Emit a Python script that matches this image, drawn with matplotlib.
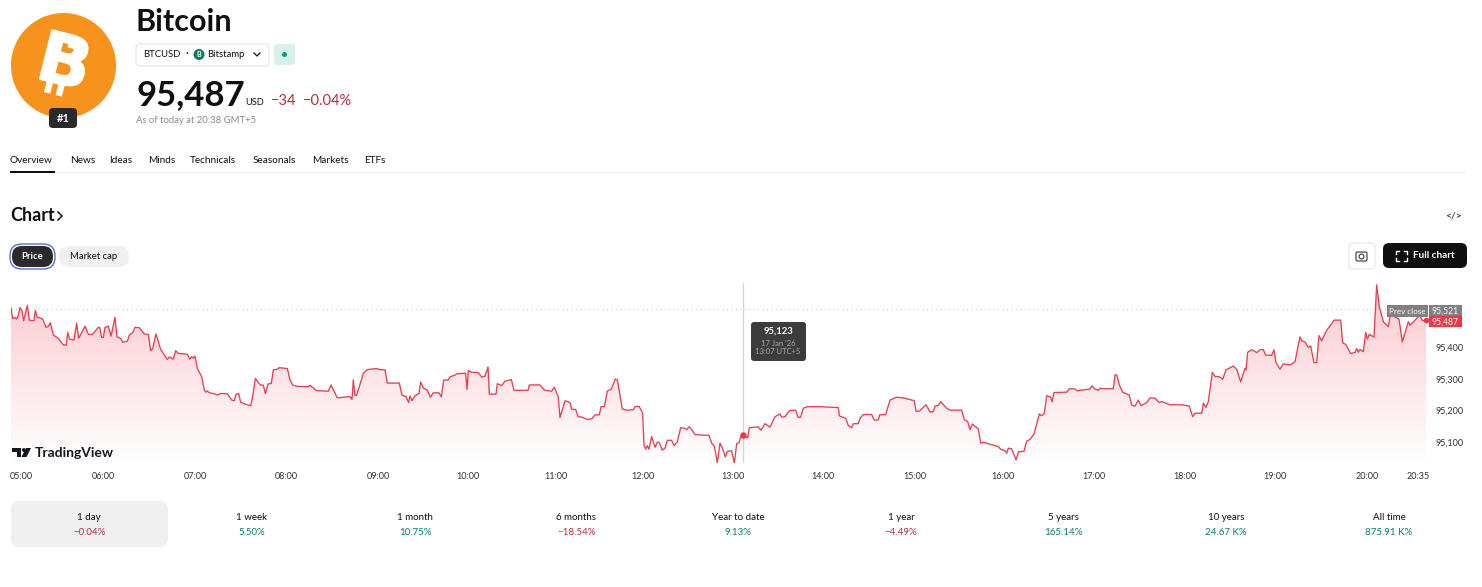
import numpy as np
import matplotlib
matplotlib.use('Agg')
import matplotlib.pyplot as plt
from matplotlib.colors import LinearSegmentedColormap
from matplotlib.patches import Circle, FancyBboxPatch, Polygon, Rectangle
from matplotlib.patheffects import withStroke
from matplotlib.transforms import Affine2D

plt.rcParams['font.family'] = ['Lato', 'DejaVu Sans']

# session bars (one bar is about 13 seconds) and last price in USD
bars_morning = [0, 5, 10, 17, 22, 27, 33, 38, 43, 49, 55, 69, 73, 79, 95, 105, 113, 118, 127, 142, 157, 166, 170, 176, 189, 197, 203, 212, 222, 232, 244, 262, 266, 272, 277, 282, 292, 300, 312, 318, 329, 335, 349, 355, 365, 372, 385, 400, 412, 419, 425, 435, 449, 469, 475, 487, 494, 502, 529, 536, 542, 547, 552, 559, 572, 580, 585, 589, 595, 607, 620, 629, 649, 662, 670, 675, 683, 689, 702, 719, 725, 733, 747, 757, 763, 771, 781, 787, 799, 805, 829, 837, 845, 862, 892, 897, 917, 952, 960, 979, 1017, 1023, 1027, 1032, 1037, 1057, 1067]
price_morning = [95526, 95492, 95496, 95491, 95503, 95527, 95517, 95485, 95508, 95534, 95487, 95485, 95517, 95496, 95491, 95464, 95468, 95479, 95440, 95429, 95408, 95408, 95448, 95426, 95424, 95477, 95430, 95447, 95468, 95442, 95441, 95464, 95464, 95432, 95432, 95464, 95468, 95436, 95496, 95434, 95429, 95417, 95420, 95440, 95447, 95464, 95463, 95443, 95442, 95390, 95397, 95443, 95394, 95362, 95370, 95363, 95390, 95381, 95379, 95363, 95371, 95366, 95373, 95334, 95307, 95265, 95258, 95262, 95256, 95254, 95249, 95254, 95253, 95233, 95231, 95251, 95254, 95226, 95220, 95215, 95244, 95302, 95282, 95280, 95254, 95284, 95286, 95329, 95331, 95336, 95333, 95297, 95281, 95276, 95276, 95280, 95263, 95261, 95281, 95240, 95244, 95235, 95297, 95248, 95248, 95318, 95329]

bars_midday = [1077, 1097, 1105, 1122, 1129, 1165, 1173, 1185, 1193, 1197, 1203, 1212, 1224, 1229, 1237, 1249, 1258, 1267, 1284, 1291, 1298, 1311, 1317, 1329, 1339, 1364, 1368, 1372, 1382, 1402, 1412, 1422, 1431, 1435, 1455, 1459, 1472, 1482, 1501, 1509, 1551, 1555, 1587, 1601, 1622, 1630, 1642, 1647, 1662, 1677, 1682, 1694, 1701, 1715, 1727, 1742, 1752, 1765, 1770, 1780, 1789, 1801, 1813, 1819, 1834, 1847, 1867, 1873, 1885, 1895, 1899, 1904, 1909, 1914, 1922, 1932, 1939, 1944, 1954, 1962, 1969, 1982, 1989, 1999, 2009, 2022, 2027, 2034, 2043, 2052, 2094, 2102, 2110, 2119, 2127, 2135, 2143, 2149, 2162, 2170]
price_midday = [95331, 95333, 95330, 95329, 95287, 95287, 95249, 95244, 95225, 95246, 95231, 95247, 95254, 95291, 95271, 95265, 95242, 95256, 95256, 95243, 95297, 95296, 95307, 95311, 95317, 95318, 95267, 95327, 95321, 95320, 95306, 95309, 95338, 95252, 95252, 95285, 95279, 95293, 95298, 95264, 95264, 95281, 95281, 95264, 95261, 95274, 95242, 95177, 95231, 95225, 95204, 95203, 95181, 95178, 95172, 95173, 95186, 95186, 95212, 95212, 95262, 95268, 95300, 95297, 95205, 95201, 95202, 95213, 95212, 95191, 95090, 95077, 95088, 95077, 95117, 95083, 95099, 95099, 95074, 95080, 95105, 95105, 95088, 95100, 95145, 95143, 95139, 95148, 95138, 95123, 95121, 95096, 95087, 95034, 95096, 95078, 95052, 95070, 95072, 95032]

bars_afternoon = [2177, 2184, 2190, 2197, 2205, 2210, 2215, 2242, 2250, 2262, 2277, 2292, 2307, 2312, 2322, 2335, 2354, 2361, 2369, 2377, 2389, 2427, 2482, 2485, 2504, 2512, 2522, 2527, 2542, 2547, 2557, 2582, 2590, 2602, 2606, 2624, 2637, 2657, 2677, 2710, 2715, 2725, 2735, 2745, 2757, 2767, 2772, 2782, 2789, 2807, 2817, 2852, 2860, 2870, 2877, 2884, 2902, 2909, 2917, 2962, 2969, 2982, 2987, 2992, 3002, 3015, 3023, 3039, 3047, 3057, 3069, 3085, 3092, 3100, 3107, 3119, 3123, 3129, 3167, 3175, 3192, 3199, 3207, 3237, 3243, 3252, 3262]
price_afternoon = [95094, 95098, 95117, 95123, 95117, 95113, 95145, 95148, 95137, 95158, 95147, 95180, 95189, 95179, 95180, 95199, 95201, 95178, 95179, 95207, 95212, 95212, 95209, 95183, 95175, 95152, 95145, 95158, 95158, 95175, 95187, 95187, 95169, 95170, 95186, 95187, 95233, 95242, 95240, 95231, 95197, 95198, 95208, 95218, 95195, 95196, 95214, 95216, 95228, 95207, 95201, 95201, 95170, 95165, 95139, 95157, 95141, 95096, 95099, 95085, 95077, 95072, 95064, 95080, 95078, 95043, 95069, 95070, 95102, 95108, 95125, 95189, 95183, 95191, 95247, 95242, 95227, 95257, 95258, 95269, 95268, 95262, 95264, 95268, 95278, 95268, 95264]

bars_evening = [3267, 3272, 3307, 3312, 3317, 3325, 3335, 3355, 3362, 3372, 3382, 3390, 3407, 3417, 3432, 3445, 3452, 3477, 3512, 3535, 3545, 3552, 3572, 3577, 3585, 3592, 3604, 3612, 3625, 3635, 3645, 3667, 3677, 3689, 3702, 3705, 3710, 3722, 3737, 3749, 3757, 3764, 3782, 3789, 3795, 3807, 3817, 3839, 3852, 3859, 3867, 3872, 3882, 3892, 3899, 3909, 3917, 3924, 3932, 3947, 3970, 3989, 3995, 4004, 4019, 4032, 4037, 4042, 4047, 4057, 4064, 4069, 4075, 4089, 4097, 4105, 4117, 4132, 4137, 4147, 4164, 4174, 4192, 4197, 4217, 4225, 4235, 4245]
price_evening = [95271, 95269, 95269, 95313, 95313, 95281, 95258, 95249, 95217, 95214, 95233, 95215, 95225, 95240, 95239, 95225, 95228, 95218, 95218, 95214, 95180, 95191, 95191, 95223, 95210, 95228, 95321, 95308, 95307, 95299, 95329, 95341, 95331, 95291, 95334, 95329, 95385, 95393, 95384, 95394, 95393, 95376, 95375, 95393, 95352, 95331, 95348, 95345, 95355, 95392, 95434, 95421, 95418, 95400, 95405, 95352, 95352, 95438, 95421, 95455, 95487, 95487, 95415, 95410, 95381, 95384, 95397, 95385, 95394, 95387, 95448, 95427, 95442, 95433, 95599, 95530, 95482, 95466, 95500, 95500, 95490, 95418, 95482, 95471, 95492, 95503, 95485, 95487]

time_labels = ['05:00', '06:00', '07:00', '08:00', '09:00', '10:00', '11:00', '12:00', '13:00', '14:00', '15:00', '16:00', '17:00', '18:00', '19:00', '20:00', '20:35']
time_bars = [30, 276, 552, 825, 1101, 1371, 1635, 1896, 2166, 2436, 2712, 2976, 3249, 3522, 3792, 4068, 4221]
price_ticks = [95100, 95200, 95300, 95400]
prev_close = 95521
last_price = 95487
hover_bar = 2197
hover_price = 95123

periods = ['1 day', '1 week', '1 month', '6 months', 'Year to date', '1 year', '5 years', '10 years', 'All time']
period_changes = ['−0.04%', '5.50%', '10.75%', '−18.54%', '9.13%', '−4.49%', '165.14%', '24.67 K%', '875.91 K%']
tabs = ['Overview', 'News', 'Ideas', 'Minds', 'Technicals', 'Seasonals', 'Markets', 'ETFs']

bars = np.concatenate([bars_morning, bars_midday, bars_afternoon, bars_evening])
prices = np.concatenate([price_morning, price_midday, price_afternoon, price_evening])

RED = '#f23645'
TEXT_RED = '#b8303f'
TEXT_GREEN = '#0b7f6d'
INK = '#0f0f0f'
W, H = 1482, 587

fig = plt.figure(figsize=(W / 100, H / 100), dpi=100, facecolor='white')

# price chart
ax = fig.add_axes([11 / W, 1 - 463 / H, 1415 / W, 180 / H])
area = ax.fill_between(bars, prices, 95033, color='none')
cmap = LinearSegmentedColormap.from_list('fade', ['#fcc8ce', '#ffffff'])
im = ax.imshow(np.linspace(0, 1, 256).reshape(-1, 1), extent=[0, 4245, 95033, 95605],
               origin='upper', aspect='auto', cmap=cmap, zorder=1)
im.set_clip_path(area.get_paths()[0], ax.transData)
ax.set_xlim(0, 4245)
ax.set_ylim(95033, 95605)
ax.plot(bars, prices, color='#e4404f', lw=0.95, zorder=3, solid_joinstyle='round')
ax.axhline(prev_close, color='#c8c8c8', lw=0.8, ls=(0, (1, 3)), zorder=2)
ax.axvline(hover_bar, color='#d4d4d4', lw=0.9, zorder=2)
ax.plot([hover_bar], [hover_price], 'o', color=RED, ms=3.6, zorder=4)
ax.plot([bars[-1]], [last_price], 'o', color=RED, ms=3, zorder=4, clip_on=False)
for s in ax.spines.values():
    s.set_visible(False)
ax.yaxis.tick_right()
ax.set_yticks(price_ticks)
ax.set_yticklabels([f'{v:,}' for v in price_ticks])
ax.set_xticks(time_bars)
ax.set_xticklabels(time_labels)
ax.tick_params(axis='y', length=0, pad=7, labelsize=6.5, labelcolor='#333333')
ax.tick_params(axis='x', length=0, pad=6.5, labelsize=6.5, labelcolor='#333333')

# page furniture, drawn in pixel coordinates
ui = fig.add_axes([0, 0, 1, 1], zorder=5)
ui.set_xlim(0, W)
ui.set_ylim(H, 0)
ui.axis('off')


def box(x0, y0, x1, y1, face, edge='none', r=4, lw=0.8):
    ui.add_patch(FancyBboxPatch((x0 + r, y0 + r), x1 - x0 - 2 * r, y1 - y0 - 2 * r,
                                boxstyle=f'round,pad={r},rounding_size={r}',
                                fc=face, ec=edge, lw=lw))


def label(x, y, s, size=7, color=INK, weight='normal', ha='left'):
    ui.text(x, y + 0.7, s, fontsize=size, color=color, fontweight=weight, ha=ha, va='center')


# coin logo: no installed font has the bitcoin sign, so it is a B with strokes added
ui.add_patch(Circle((63.5, 65.5), 52.5, fc='#f7931a', ec='none'))
ui.text(64, 65, 'B', fontsize=50, color='white', fontweight='bold', ha='center', va='center',
        rotation=-14, family='DejaVu Sans',
        path_effects=[withStroke(linewidth=1.2, foreground='white')])
tilt = Affine2D().rotate_deg_around(63.5, 65.5, 14) + ui.transData
for bx in (51, 63):
    ui.add_patch(Rectangle((bx, 35), 6.5, 12, fc='white', ec='none', transform=tilt))
    ui.add_patch(Rectangle((bx, 84), 6.5, 12, fc='white', ec='none', transform=tilt))
box(49, 108, 77, 128, '#2a2a2a', r=4)
label(63, 117.5, '#1', 8, 'white', 'bold', 'center')

# heading block
label(136, 21, 'Bitcoin', 22, INK, 'bold')
box(136, 44, 269, 66, 'white', '#e4e4e4', r=4)
label(143, 54, 'BTCUSD', 6.8)
label(185, 53, '·', 8)
ui.add_patch(Circle((199, 54.5), 5.5, fc='#0f7a5c', ec='none'))
label(199, 54, 'B', 5, 'white', 'bold', 'center')
label(207, 54, 'Bitstamp', 6.8)
ui.plot([254, 257, 260], [53, 56, 53], color=INK, lw=0.9)
box(274, 44, 295, 65, '#d6f0ea', r=3)
ui.add_patch(Circle((284.5, 54.5), 2.5, fc='#089981', ec='none'))
label(136, 94, '95,487', 25, INK, 'bold')
label(245, 102, 'USD', 6.6)
label(271, 100, '−34', 10.5, TEXT_RED)
label(303, 100, '−0.04%', 10.5, TEXT_RED)
label(136, 120, 'As of today at 20:38 GMT+5', 6.8, '#8a8a8a')

# tabs
tab_x = [10, 70, 109, 148, 190, 253, 312, 364]
for x, t in zip(tab_x, tabs):
    label(x, 160, t, 7.2, INK)
ui.add_patch(Rectangle((10, 172), 1456, 1.2, fc='#ececec', ec='none'))
ui.add_patch(Rectangle((10, 171), 45, 1.8, fc='#0f0f0f', ec='none'))

# chart header and buttons
label(10, 215, 'Chart', 13, INK, 'bold')
ui.plot([58, 62, 58], [212, 216, 220], color=INK, lw=1.1)
label(1453, 215, '</>', 7.5, INK, 'normal', 'center')
box(10, 244, 55, 269, 'white', '#3a66c8', r=12, lw=0.9)
box(12, 246, 53, 267, '#2a2a2a', r=10)
label(32.5, 256, 'Price', 6.8, 'white', 'bold', 'center')
box(59, 246, 129, 267, '#f0f0f0', r=10)
label(94, 256, 'Market cap', 6.8, INK, 'normal', 'center')
box(1349, 243, 1375, 269, 'white', '#e6e6e6', r=4)
box(1356, 252, 1367, 261, 'none', '#4a4a4a', r=1.5, lw=0.9)
ui.add_patch(Circle((1361.5, 256.5), 2.4, fc='none', ec='#4a4a4a', lw=0.9))
box(1383, 243, 1467, 268, '#0f0f0f', r=6)
for cx, sx in [(1396, 1), (1407, -1)]:
    for cy, sy in [(251, 1), (261, -1)]:
        ui.plot([cx + 3 * sx, cx, cx], [cy, cy, cy + 3 * sy], color='white', lw=1)
label(1413, 255, 'Full chart', 7.2, 'white', 'bold')

# price scale labels and tooltip
ui.add_patch(Rectangle((1387, 305), 41, 12, fc='#808080', ec='none'))
label(1407.5, 310.5, 'Prev close', 5.8, 'white', 'normal', 'center')
ui.add_patch(Rectangle((1429, 305), 33, 11, fc='#808080', ec='none'))
label(1445.5, 310, f'{prev_close:,}', 6.2, 'white', 'normal', 'center')
ui.add_patch(Rectangle((1429, 316), 33, 11, fc=RED, ec='none'))
label(1445.5, 321, f'{last_price:,}', 6.2, 'white', 'normal', 'center')
box(751, 322, 806, 361, '#3c3c3c', r=3)
label(778, 330.5, f'{hover_price:,}', 6.8, 'white', 'bold', 'center')
label(778, 343, "17 Jan '26", 5.5, '#a8a8a8', 'normal', 'center')
label(778, 351, '13:07 UTC+5', 5.5, '#a8a8a8', 'normal', 'center')

# TradingView mark
ui.add_patch(Polygon([(12, 448), (21, 448), (21, 457), (16.5, 457), (16.5, 452), (12, 452)], fc='#131722', ec='none'))
ui.add_patch(Circle((23.8, 450), 1.9, fc='#131722', ec='none'))
ui.add_patch(Polygon([(26, 448), (31, 448), (26.5, 457), (21.5, 457)], fc='#131722', ec='none'))
label(35, 452, 'TradingView', 10, '#131722', 'bold')

# performance tiles
box(11, 501, 168, 547, '#f0f0f0', r=8)
col_x = [89, 252, 415, 576, 738, 901, 1063, 1226, 1389]
for x, name, chg in zip(col_x, periods, period_changes):
    label(x, 516.5, name, 7, INK, 'normal', 'center')
    label(x, 531.5, chg, 7, TEXT_RED if chg.startswith('−') else TEXT_GREEN, 'normal', 'center')

fig.savefig('out.png', dpi=100)
